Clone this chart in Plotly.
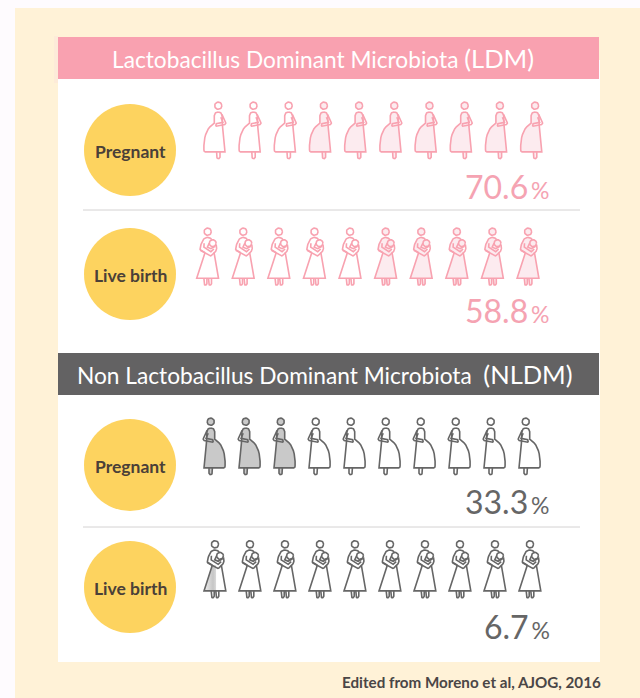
import numpy as np
import plotly.graph_objects as go

# ---- data ----
section_names = ["Lactobacillus Dominant Microbiota ", "Non Lactobacillus Dominant Microbiota\u00a0\u00a0"]
section_codes = ["(LDM)", "(NLDM)"]
row_labels = ["Pregnant", "Live birth", "Pregnant", "Live birth"]
rates = [70.6, 58.8, 33.3, 6.7]
filled_icons = [7, 5, 3, 0.67]
icons_per_row = 10
source_note = "Edited from Moreno et al, AJOG, 2016"

# ---- style / layout ----
FONT = "Lato, 'Noto Sans CJK JP', sans-serif"
PINK, PALE, GREY, MID = "#F8A2B0", "#FCEBEF", "#666666", "#C9C9C9"
rows = [
    dict(kind="pregnant", flip=False, x0=218.3, dx=35.2, y=105.7, line=PINK, fill=PALE, from_right=True, cy=150, ty=186, col="#F5A3B2"),
    dict(kind="mother", flip=False, x0=207.7, dx=35.6, y=231.7, line=PINK, fill=PALE, from_right=True, cy=274, ty=310, col="#F5A3B2"),
    dict(kind="pregnant", flip=True, x0=210.7, dx=35.0, y=421.7, line=GREY, fill=MID, from_right=False, cy=465, ty=501, col="#666666"),
    dict(kind="mother", flip=False, x0=215.0, dx=35.0, y=544.3, line=GREY, fill=MID, from_right=False, cy=587, ty=626, col="#666666"),
]


def bez(p0, p1, p2, n=10):
    t = np.linspace(0, 1, n)[:, None]
    p0, p1, p2 = map(np.array, (p0, p1, p2))
    return ((1 - t) ** 2 * p0 + 2 * t * (1 - t) * p1 + t ** 2 * p2).tolist()


def circle(cx, cy, r, n=28):
    a = np.linspace(0, 2 * np.pi, n)
    return np.c_[cx + r * np.cos(a), cy + r * np.sin(a)].tolist()


def preg_parts():
    body = [[0, 6.3]] + bez([0, 6.3], [3.2, 6.4], [3.8, 10]) + [[4.2, 20.5], [6.7, 46.2]] + \
        [[-13, 46.2]] + bez([-13, 46.2], [-14.4, 46.2], [-14.4, 44]) + bez([-14.4, 44], [-15, 24], [-4, 17.5]) + \
        [[-4, 10]] + bez([-4, 10], [-3.6, 6.4], [0, 6.3])
    legs = [[-1.7, 46.2], [-1.7, 51.5]] + bez([-1.7, 51.5], [0, 54.5], [1.7, 51.5]) + [[1.7, 46.2]]
    arm = [[2.5, 11.5], [4.6, 16.6], [-2, 18]] + bez([-2, 18], [-3, 19.3], [-2, 20.5]) + [[6.5, 18.9]] + \
        bez([6.5, 18.9], [7.9, 18.2], [7.3, 16.8]) + [[3.6, 8.6]]
    head = circle(0, 0, 3.6)
    return [head, body, legs], [head, body, legs, arm]


def mother_parts():
    dress = [[-2.7, 21], [-11, 46.6], [10.8, 46.6], [6.3, 20.6]]
    torso = [[-2.7, 21]] + bez([-7.5, 18.5], [-8, 16], [-6, 11]) + bez([-6, 11], [-4.5, 6], [0, 5.7]) + \
        bez([0, 5.7], [3, 5.8], [4, 8])
    legs_l = [[-3.8, 46.6], [-3.8, 52]] + bez([-3.8, 52], [-2.3, 55], [-0.8, 52]) + [[-0.8, 46.6]]
    legs_r = [[0.8, 46.6], [0.8, 52]] + bez([0.8, 52], [2.3, 55], [3.8, 52]) + [[3.8, 46.6]]
    arm = [[-7.5, 18.5], [1.5, 24]] + bez([1.5, 24], [2.8, 24.6], [4, 23.5]) + [[8, 19.5]] + \
        bez([8, 19.5], [9.5, 17.5], [8.5, 13])
    inner = [[-3.6, 11.5], [-3.8, 15.5], [3.2, 20], [6.2, 17.3]]
    baby = circle(5, 11.5, 3.4, 20)
    wrap = [[1.6, 11.5], [-0.3, 15.5], [3.2, 17], [7.5, 14.5]]
    head = circle(0, 0, 3.6)
    fill_body = dress + [[6, 16], [8.5, 14]] + bez([8.5, 14], [7, 5], [0, 5.7]) + bez([0, 5.7], [-5, 6], [-7.5, 18]) + [[-2.7, 21]]
    return [head, fill_body, legs_l, legs_r], [head, dress, torso, legs_l, legs_r, arm, inner, baby, wrap]


def place(paths, cx, cy, flip):
    xs, ys = [], []
    s = -1 if flip else 1
    for p in paths:
        a = np.array(p)
        xs += (cx + s * a[:, 0]).tolist() + [None]
        ys += (cy + a[:, 1]).tolist() + [None]
    return xs, ys


fig = go.Figure()
shapes = [
    dict(type="rect", x0=15, x1=640, y0=8, y1=698, fillcolor="#FFF2D7", line_width=0, layer="below"),
    dict(type="rect", x0=58, x1=600, y0=60, y1=662, fillcolor="#FFFFFF", line_width=0, layer="below"),
    dict(type="rect", x0=54, x1=58, y0=36, y1=83, fillcolor="#FDEBD9", line_width=0, layer="below"),
    dict(type="rect", x0=58, x1=599, y0=37, y1=79, fillcolor="#F9A1B0", line_width=0, layer="below"),
    dict(type="rect", x0=58, x1=599, y0=353, y1=395, fillcolor="#636263", line_width=0, layer="below"),
    dict(type="line", x0=83, x1=580, y0=210, y1=210, line=dict(color="#D4D2D2", width=1), layer="below"),
    dict(type="line", x0=83, x1=580, y0=527, y1=527, line=dict(color="#D4D2D2", width=1), layer="below"),
]
annotations = []


def text(x, y, s, size, color, anchor="center", family=FONT):
    annotations.append(dict(x=x, y=y, xref="x", yref="y", text=s, showarrow=False, xanchor=anchor,
                            yanchor="middle", font=dict(family=family, size=size, color=color)))


for x, y, name, code in zip([110, 75], [58, 374], section_names, section_codes):
    text(x, y, f"{name}<span style='font-size:25.5px'>{code}</span>", 22.7, "#FFFFFF", anchor="left")
text(471.5, 682, f"<b>{source_note}</b>", 15.2, "#4A4646")

for r, label, rate, nfill in zip(rows, row_labels, rates, filled_icons):
    shapes.append(dict(type="circle", x0=84, x1=176, y0=r["cy"] - 46, y1=r["cy"] + 46,
                       fillcolor="#FDD35F", line_width=0, layer="below"))
    text(130.5, r["cy"] + 1, f"<b>{label}</b>", 17.5, "#4A4038")
    text(552, r["ty"], f"{rate}<span style='font-size:23px'>\u2009%</span>", 32, r["col"], anchor="right")

    fill_parts, line_parts = preg_parts() if r["kind"] == "pregnant" else mother_parts()
    fx, fy, lx, ly = [], [], [], []
    for i in range(icons_per_row):
        cx = r["x0"] + i * r["dx"]
        a, b = place(line_parts, cx, r["y"], r["flip"])
        lx += a
        ly += b
        idx = icons_per_row - 1 - i if r["from_right"] else i
        if idx < int(nfill):
            a, b = place(fill_parts, cx, r["y"], r["flip"])
            fx += a
            fy += b
        elif idx == int(nfill) and nfill % 1 > 0:
            # partly filled icon: dress cut off at the filled share of its width
            cut = -11 + (nfill % 1) * 18
            top = -2.7
            yc = 21
            fig.add_trace(go.Scatter(
                x=[cx + top, cx - 11, cx + cut, cx + cut, cx + top], y=[r["y"] + yc, r["y"] + 46.6, r["y"] + 46.6, r["y"] + yc, r["y"] + yc],
                mode="none", fill="toself", hoverinfo="skip", showlegend=False,
                fillgradient=dict(type="horizontal", colorscale=[[0, "#EFEFEF"], [0.75, "#C6C6C6"], [1, "#DADADA"]])))
    if fx:
        fig.add_trace(go.Scatter(x=fx, y=fy, mode="none", fill="toself", fillcolor=r["fill"],
                                 hoverinfo="skip", showlegend=False))
    fig.add_trace(go.Scatter(x=lx, y=ly, mode="lines", hoverinfo="skip", showlegend=False,
                             line=dict(color=r["line"], width=1.6)))

fig.update_layout(
    width=640, height=698, margin=dict(l=0, r=0, t=0, b=0),
    paper_bgcolor="#FEFBFE", plot_bgcolor="rgba(0,0,0,0)", shapes=shapes, annotations=annotations,
    xaxis=dict(range=[0, 640], visible=False, fixedrange=True),
    yaxis=dict(range=[698, 0], visible=False, fixedrange=True),
    showlegend=False,
)
fig.write_html("out.html", config={"displayModeBar": False},
               post_script="document.body.style.margin='0';document.documentElement.style.overflow='hidden';")
